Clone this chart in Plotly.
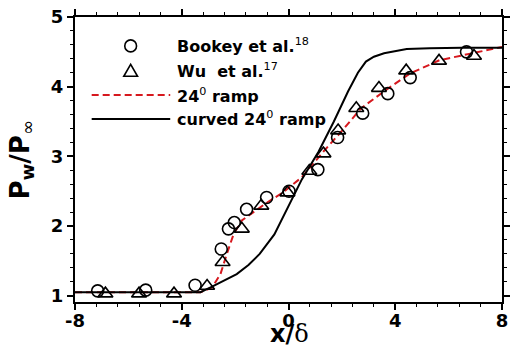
import plotly.graph_objects as go

# ---------------- data ----------------
bookey_x = [-7.15, -5.35, -3.5, -2.52, -2.25, -2.03, -1.57, -0.82, 0.02, 1.1, 1.84, 2.78, 3.72, 4.56, 6.67]
bookey_y = [1.07, 1.08, 1.15, 1.67, 1.96, 2.05, 2.24, 2.41, 2.5, 2.81, 3.27, 3.62, 3.90, 4.13, 4.5]

wu_x = [-6.86, -5.6, -4.29, -3.05, -2.47, -1.75, -1.02, -0.04, 0.78, 1.31, 1.86, 2.54, 3.39, 4.41, 5.64, 6.95]
wu_y = [1.03, 1.03, 1.03, 1.14, 1.48, 1.96, 2.29, 2.48, 2.79, 3.04, 3.37, 3.69, 3.98, 4.23, 4.37, 4.44]

ramp_x = [-8, -3.3, -2.86, -2.55, -2.31, -2.06, -1.75, -1.32, -0.83, -0.22, 0.5, 1.31, 1.99, 2.72, 3.64, 4.56, 5.66, 6.52, 7.74, 8]
ramp_y = [1.05, 1.05, 1.12, 1.31, 1.6, 1.88, 2.08, 2.2, 2.33, 2.48, 2.7, 3.07, 3.36, 3.69, 3.95, 4.19, 4.38, 4.45, 4.55, 4.57]

curved_x = [-8, -3.3, -2.92, -2.5, -1.94, -1.5, -1.08, -0.53, -0.1, 0.5, 1.13, 1.7, 2.23, 2.6, 2.9, 3.2, 3.58, 4.07, 4.43, 5.29, 6.5, 8]
curved_y = [1.05, 1.05, 1.12, 1.2, 1.31, 1.44, 1.6, 1.88, 2.21, 2.67, 3.07, 3.5, 3.93, 4.2, 4.36, 4.43, 4.48, 4.52, 4.54, 4.55, 4.56, 4.56]

legend_labels = ["<b>Bookey et al.</b><sup>18</sup>",
                 "<b>Wu\u00a0 et al.</b><sup>17</sup>",
                 "<b>24</b><sup>0</sup><b> ramp</b>",
                 "<b>curved 24</b><sup>0</sup><b> ramp</b>"]

x_ticks = [-8, -4, 0, 4, 8]
y_ticks = [1, 2, 3, 4, 5]

# ---------------- layout helpers ----------------
W, H = 516, 346
ML, MR, MT, MB = 75, 6, 16, 44
PW = W - ML - MR
PH = H - MT - MB
FONT = "DejaVu Sans"
RED = "rgb(214,24,30)"


def pxx(xp):
    return (xp - ML) / PW


def pxy(yp):
    return (H - MB - yp) / PH


fig = go.Figure()
fig.add_trace(go.Scatter(x=ramp_x, y=ramp_y, mode="lines",
                         line=dict(color=RED, width=2, dash="7px,4px"), showlegend=False))
fig.add_trace(go.Scatter(x=curved_x, y=curved_y, mode="lines",
                         line=dict(color="black", width=2), showlegend=False))
fig.add_trace(go.Scatter(x=bookey_x, y=bookey_y, mode="markers",
                         marker=dict(symbol="circle-open", size=12, color="black",
                                     line=dict(width=1.6, color="black")), showlegend=False))
fig.add_trace(go.Scatter(x=wu_x, y=wu_y, mode="markers",
                         marker=dict(symbol="triangle-up-open", size=13, color="black",
                                     line=dict(width=1.6, color="black")), showlegend=False))

# ---------------- manual legend ----------------
shapes = []
cx = 131.7
rows = [45, 70, 94.3, 118.3]
shapes.append(dict(type="circle", xref="paper", yref="paper",
                   x0=pxx(cx - 6), x1=pxx(cx + 6), y0=pxy(rows[0] + 6), y1=pxy(rows[0] - 6),
                   line=dict(color="black", width=1.6)))
ty = rows[1]
shapes.append(dict(type="path", xref="paper", yref="paper",
                   path=f"M{pxx(cx - 7)},{pxy(ty + 5.5)} L{pxx(cx + 7)},{pxy(ty + 5.5)} L{pxx(cx)},{pxy(ty - 6.5)} Z",
                   line=dict(color="black", width=1.6)))
shapes.append(dict(type="line", xref="paper", yref="paper",
                   x0=pxx(92), x1=pxx(172), y0=pxy(rows[2]), y1=pxy(rows[2]),
                   line=dict(color=RED, width=2, dash="7px,4px")))
shapes.append(dict(type="line", xref="paper", yref="paper",
                   x0=pxx(92), x1=pxx(172), y0=pxy(rows[3]), y1=pxy(rows[3]),
                   line=dict(color="black", width=2)))

annotations = []
for lab, r in zip(legend_labels, rows):
    annotations.append(dict(text=lab, xref="paper", yref="paper", x=pxx(177), y=pxy(r),
                            xanchor="left", yanchor="middle", showarrow=False,
                            font=dict(family=FONT, size=16, color="black")))

# axis titles
annotations.append(dict(text="<b>x/</b><span style='font-family:DejaVu Serif'>δ</span>",
                        xref="paper", yref="paper", x=pxx(294), y=pxy(334),
                        xanchor="center", yanchor="middle", showarrow=False,
                        font=dict(family=FONT, size=24, color="black")))
annotations.append(dict(text="<b>P<sub>w</sub>/P</b><sub>∞</sub>",
                        xref="paper", yref="paper", x=pxx(20), y=pxy(159),
                        xanchor="center", yanchor="middle", showarrow=False, textangle=-90,
                        font=dict(family=FONT, size=26, color="black")))

axis_common = dict(showgrid=False, zeroline=False, showline=True, linecolor="black", linewidth=2,
                   mirror="allticks", ticks="outside", ticklen=6, tickwidth=1.5, tickcolor="black",
                   tickfont=dict(family=FONT, size=18, color="black", weight="bold"))

fig.update_layout(
    width=W, height=H,
    margin=dict(l=ML, r=MR, t=MT, b=MB, pad=0),
    paper_bgcolor="white", plot_bgcolor="white",
    xaxis=dict(range=[-8, 8], tickvals=x_ticks, ticktext=[str(v) for v in x_ticks],
               ticklabelstandoff=-5,
               minor=dict(tick0=-8, dtick=0.8, ticks="outside", ticklen=3, tickwidth=1, tickcolor="black"),
               **axis_common),
    yaxis=dict(range=[0.91, 5], tickvals=y_ticks, ticktext=[str(v) for v in y_ticks],
               minor=dict(tick0=1, dtick=0.2, ticks="outside", ticklen=3, tickwidth=1, tickcolor="black"),
               **axis_common),
    shapes=shapes,
    annotations=annotations,
    showlegend=False,
)

fig.write_html("out.html")
